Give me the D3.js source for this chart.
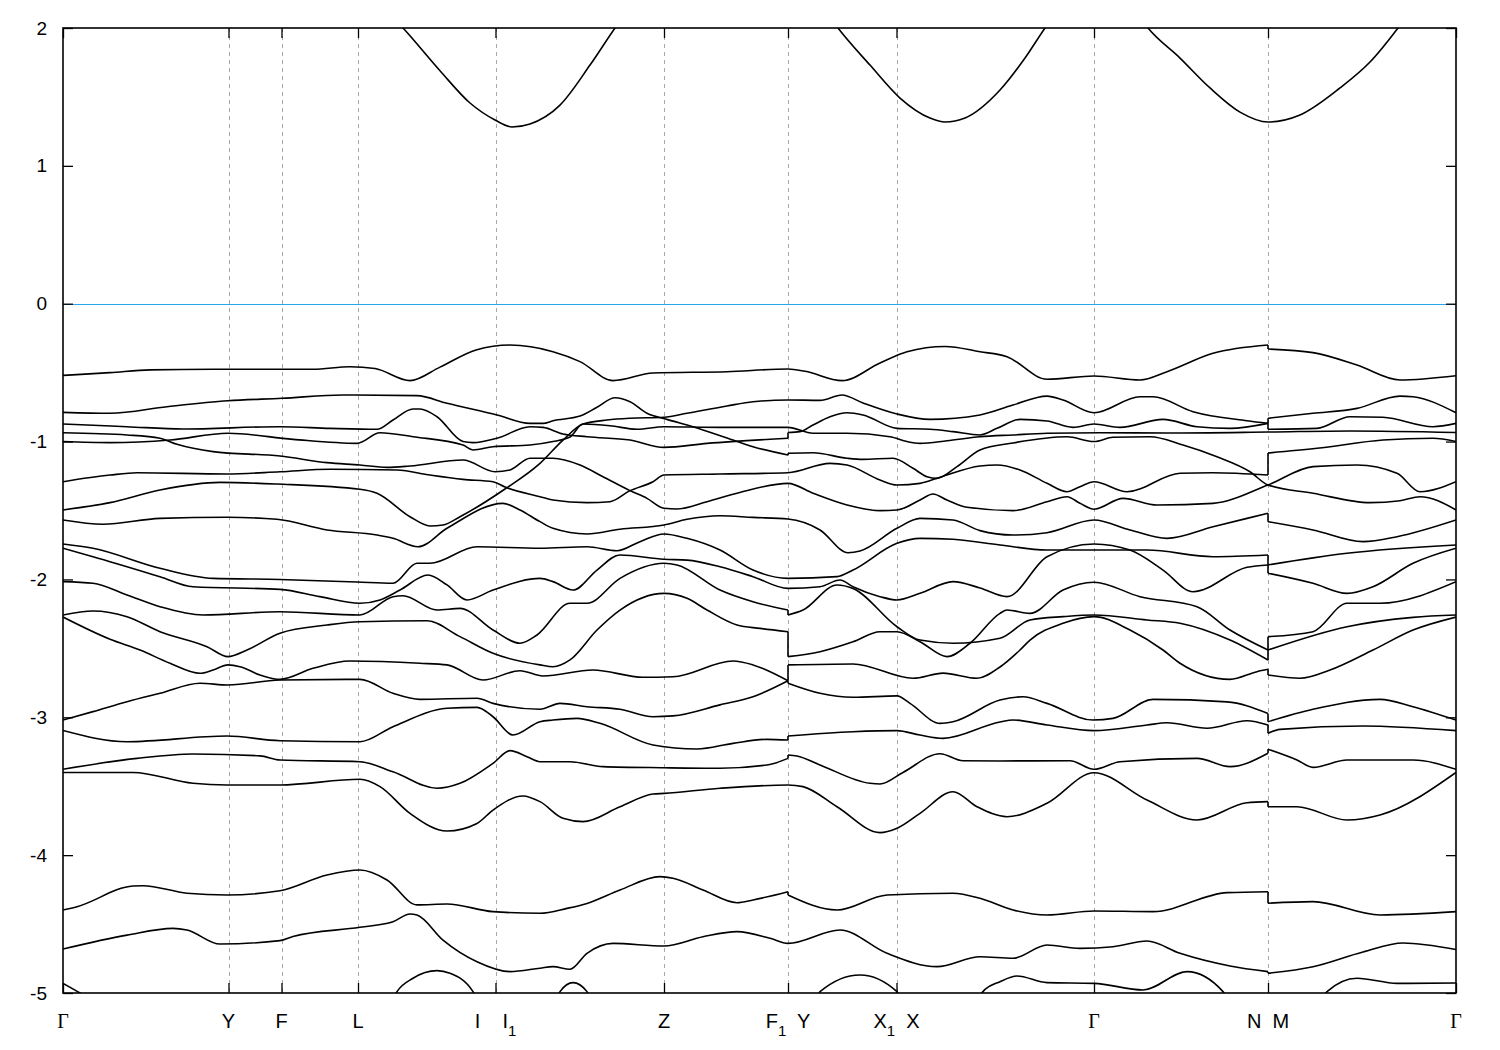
<!DOCTYPE html>
<html><head><meta charset="utf-8">
<script src="https://cdn.jsdelivr.net/npm/d3@7"></script>
<style>body{margin:0;background:#fff}</style>
</head><body>
<svg id="chart" width="1500" height="1050"></svg>
<script>
// ---- k-path ticks (path distance units) ----
const kTicks = [0, 1.655, 2.185, 2.95, 4.325, 6.01, 7.25, 8.335, 10.31, 12.05, 13.93];
const kTickLabels = ["Γ","Y","F","L","I    I_1","Z","F_1  Y","X_1  X","Γ","N  M","Γ"];
const energyTicks = [2, 1, 0, -1, -2, -3, -4, -5];
const energyRange = [-5, 2];
const fermiLevel = 0;

// ---- conduction band (pieces that enter the window) ----
const cbSeg1 = [[3.20,2.15],[3.40,2.0],[3.77,1.69],[4.07,1.456],[4.32,1.333],[4.49,1.282],[4.67,1.304],[4.97,1.441],[5.27,1.731],[5.52,2.0],[5.70,2.18]];
const cbSeg2 = [[7.57,2.18],[7.75,2.0],[8.07,1.731],[8.37,1.492],[8.67,1.347],[8.82,1.318],[9.02,1.347],[9.37,1.55],[9.62,1.782],[9.82,2.0],[10.0,2.18]];
const cbSeg3 = [[10.67,2.18],[10.85,2.0],[11.17,1.782],[11.47,1.565],[11.77,1.39],[12.05,1.318],[12.37,1.369],[12.77,1.565],[13.07,1.753],[13.35,2.0],[13.53,2.18]];

// ---- valence bands [k, E(eV)] ; repeated k = discontinuity ----
const band01 = [[0,-0.52],[0.47,-0.50],[0.87,-0.48],[1.5,-0.475],[2.5,-0.475],[2.87,-0.457],[3.12,-0.47],[3.47,-0.558],[3.77,-0.46],[4.13,-0.336],[4.47,-0.30],[4.90,-0.348],[5.17,-0.42],[5.50,-0.558],[5.90,-0.503],[6.64,-0.493],[7.25,-0.474],[7.42,-0.49],[7.79,-0.558],[8.17,-0.43],[8.44,-0.348],[8.82,-0.31],[9.17,-0.348],[9.44,-0.384],[9.84,-0.548],[10.31,-0.524],[10.77,-0.553],[11.04,-0.493],[11.50,-0.36],[12.05,-0.30],[12.05,-0.329],[12.50,-0.355],[12.94,-0.445],[13.37,-0.553],[13.93,-0.522]];
const band02 = [[0,-0.788],[0.47,-0.795],[1.04,-0.747],[1.65,-0.704],[2.19,-0.686],[2.80,-0.662],[3.54,-0.667],[3.84,-0.722],[4.34,-0.807],[4.67,-0.868],[4.80,-0.868],[4.90,-0.849],[5.17,-0.815],[5.34,-0.751],[5.52,-0.682],[5.67,-0.711],[5.84,-0.795],[6.04,-0.839],[6.30,-0.892],[6.70,-0.989],[6.90,-1.037],[7.25,-1.097],[7.25,-1.085],[7.50,-1.081],[7.84,-1.121],[8.00,-1.129],[8.30,-1.121],[8.50,-1.194],[8.64,-1.255],[8.74,-1.267],[8.94,-1.182],[9.17,-1.061],[9.50,-1.01],[10.04,-0.965],[10.31,-1.0],[10.50,-0.969],[10.87,-0.965],[11.20,-1.025],[11.54,-1.11],[11.87,-1.219],[12.05,-1.315],[12.50,-1.375],[13.07,-1.443],[13.37,-1.429],[13.57,-1.40],[13.93,-1.496]];
const band03 = [[0,-0.873],[0.64,-0.892],[1.20,-0.909],[2.17,-0.892],[2.67,-0.904],[3.14,-0.911],[3.30,-0.844],[3.50,-0.764],[3.57,-0.764],[3.74,-0.82],[4.00,-1.0],[4.10,-1.008],[4.34,-0.976],[4.67,-0.892],[4.80,-0.897],[5.00,-0.945],[5.24,-0.965],[5.67,-0.989],[6.01,-1.042],[6.44,-1.013],[7.25,-0.976],[7.25,-0.934],[7.37,-0.928],[7.50,-0.88],[7.67,-0.82],[7.84,-0.791],[8.00,-0.807],[8.34,-0.904],[8.67,-0.911],[8.90,-0.928],[9.17,-0.952],[9.34,-0.904],[9.57,-0.839],[9.84,-0.851],[10.10,-0.897],[10.31,-0.873],[10.57,-0.897],[11.00,-0.839],[11.34,-0.892],[11.67,-0.904],[12.05,-0.868],[12.05,-0.911],[12.54,-0.904],[12.87,-0.82],[13.20,-0.824],[13.70,-0.892],[13.93,-0.868]];
const band04 = [[0,-0.936],[0.64,-0.952],[0.97,-0.976],[1.14,-1.02],[1.50,-1.073],[2.17,-1.105],[2.64,-1.153],[2.97,-1.17],[3.24,-1.187],[3.47,-1.177],[4.00,-1.134],[4.32,-1.219],[4.47,-1.206],[4.67,-1.121],[4.90,-1.121],[5.17,-1.17],[5.40,-1.255],[5.67,-1.356],[5.84,-1.412],[6.01,-1.484],[6.14,-1.489],[6.44,-1.436],[6.74,-1.375],[7.25,-1.303],[7.50,-1.375],[7.84,-1.46],[8.17,-1.501],[8.34,-1.496],[8.57,-1.424],[8.70,-1.38],[8.84,-1.424],[9.04,-1.477],[9.50,-1.501],[9.84,-1.436],[10.04,-1.40],[10.17,-1.448],[10.31,-1.491],[10.60,-1.412],[10.94,-1.46],[11.50,-1.448],[12.05,-1.315],[12.50,-1.182],[12.94,-1.17],[13.34,-1.23],[13.57,-1.364],[13.93,-1.291]];
const band05 = [[0,-1.0],[0.47,-1.008],[1.07,-0.989],[1.65,-0.94],[2.30,-0.984],[2.94,-1.013],[3.17,-0.936],[3.50,-0.965],[4.00,-1.025],[4.10,-1.061],[4.30,-1.037],[4.67,-1.025],[4.90,-1.0],[5.07,-0.967],[5.20,-0.873],[5.47,-0.885],[5.74,-0.911],[6.01,-0.892],[6.57,-0.897],[7.25,-0.897],[7.50,-0.94],[7.84,-0.94],[8.27,-0.965],[8.44,-1.0],[8.57,-1.013],[8.84,-0.994],[9.17,-0.965],[9.50,-0.952],[9.84,-0.94],[10.37,-0.936],[11.04,-0.938],[12.05,-0.931],[12.87,-0.923],[13.93,-0.934]];
const band06 = [[0,-1.291],[0.47,-1.243],[0.74,-1.226],[1.64,-1.235],[2.17,-1.219],[2.67,-1.201],[3.34,-1.206],[3.67,-1.243],[4.00,-1.274],[4.30,-1.291],[4.42,-1.33],[4.77,-1.40],[4.90,-1.424],[5.24,-1.443],[5.47,-1.436],[5.67,-1.356],[5.90,-1.291],[6.01,-1.243],[6.57,-1.235],[7.25,-1.226],[7.67,-1.158],[7.84,-1.17],[8.17,-1.279],[8.34,-1.315],[8.57,-1.303],[8.77,-1.259],[9.17,-1.177],[9.34,-1.17],[9.57,-1.206],[9.84,-1.303],[10.04,-1.364],[10.17,-1.327],[10.31,-1.291],[10.64,-1.364],[11.17,-1.23],[11.50,-1.226],[12.05,-1.243],[12.05,-1.083],[12.54,-1.049],[13.20,-0.989],[13.70,-0.976],[13.93,-1.0]];
const band07 = [[0,-1.496],[0.47,-1.443],[0.97,-1.351],[1.57,-1.296],[2.14,-1.308],[2.97,-1.346],[3.14,-1.375],[3.47,-1.545],[3.67,-1.612],[3.80,-1.605],[3.97,-1.545],[4.42,-1.344],[4.77,-1.158],[5.00,-0.989],[5.20,-0.873],[5.44,-0.844],[5.67,-0.831],[6.01,-0.824],[6.24,-0.795],[6.64,-0.742],[6.90,-0.711],[7.25,-0.698],[7.57,-0.701],[7.79,-0.662],[8.00,-0.72],[8.34,-0.80],[8.67,-0.839],[9.17,-0.807],[9.50,-0.735],[9.84,-0.67],[10.00,-0.699],[10.31,-0.791],[10.77,-0.675],[10.90,-0.675],[11.30,-0.783],[11.84,-0.849],[12.05,-0.868],[12.05,-0.831],[12.50,-0.795],[12.94,-0.759],[13.37,-0.67],[13.50,-0.675],[13.93,-0.791]];
const band08 = [[0,-1.569],[0.40,-1.60],[0.97,-1.557],[1.64,-1.549],[2.14,-1.564],[2.64,-1.641],[3.14,-1.678],[3.30,-1.702],[3.55,-1.763],[3.84,-1.629],[4.40,-1.448],[4.57,-1.496],[4.77,-1.581],[4.90,-1.629],[5.24,-1.67],[5.57,-1.636],[6.01,-1.605],[6.24,-1.564],[6.57,-1.538],[6.90,-1.55],[7.25,-1.562],[7.57,-1.641],[7.85,-1.806],[7.97,-1.794],[8.34,-1.629],[8.57,-1.557],[8.90,-1.569],[9.17,-1.646],[9.50,-1.678],[9.84,-1.661],[10.31,-1.569],[10.67,-1.641],[11.04,-1.702],[11.50,-1.618],[11.84,-1.557],[12.05,-1.52],[12.05,-1.581],[12.50,-1.641],[13.00,-1.726],[13.34,-1.69],[13.93,-1.569]];
const band09 = [[0,-1.743],[0.30,-1.774],[0.97,-1.919],[1.50,-1.992],[2.17,-2.0],[2.94,-2.019],[3.30,-2.028],[3.54,-1.883],[3.67,-1.883],[4.14,-1.763],[4.77,-1.774],[5.24,-1.763],[5.54,-1.792],[5.77,-1.726],[6.01,-1.67],[6.24,-1.702],[6.57,-1.787],[6.90,-1.932],[7.25,-1.992],[7.74,-1.98],[7.90,-1.932],[8.34,-1.738],[8.57,-1.702],[8.90,-1.709],[9.37,-1.75],[9.84,-1.787],[10.84,-1.787],[11.50,-1.835],[12.05,-1.823],[12.05,-1.895],[12.84,-1.81],[13.93,-1.75]];
const band10 = [[0,-1.774],[0.30,-1.835],[0.97,-1.98],[1.30,-2.053],[2.17,-2.072],[2.57,-2.125],[2.97,-2.173],[3.17,-2.149],[3.37,-2.077],[3.65,-1.968],[3.84,-2.04],[4.04,-2.149],[4.30,-2.077],[4.77,-1.992],[4.90,-2.016],[5.10,-2.077],[5.34,-1.932],[5.57,-1.823],[6.01,-1.854],[6.24,-1.86],[6.57,-1.908],[6.90,-1.98],[7.25,-2.065],[7.57,-2.053],[7.77,-2.004],[7.90,-2.053],[8.17,-2.125],[8.34,-2.149],[8.57,-2.101],[8.90,-2.016],[9.17,-2.062],[9.44,-2.125],[9.84,-1.835],[10.31,-1.743],[10.67,-1.787],[11.00,-1.932],[11.30,-2.089],[11.84,-1.912],[12.05,-1.895],[12.05,-1.955],[12.50,-2.028],[12.84,-2.101],[13.10,-2.053],[13.50,-1.883],[13.93,-1.774]];
const band11 = [[0,-2.016],[0.30,-2.028],[0.64,-2.113],[0.97,-2.198],[1.40,-2.258],[2.17,-2.234],[2.97,-2.258],[3.30,-2.125],[3.40,-2.118],[3.74,-2.222],[3.97,-2.21],[4.30,-2.367],[4.57,-2.463],[4.74,-2.403],[5.07,-2.173],[5.24,-2.173],[5.57,-1.992],[6.01,-1.883],[6.14,-1.895],[6.57,-2.077],[6.90,-2.162],[7.25,-2.222],[7.25,-2.258],[7.40,-2.222],[7.74,-2.04],[7.90,-2.065],[8.34,-2.343],[8.57,-2.44],[8.90,-2.463],[9.37,-2.427],[9.67,-2.294],[10.00,-2.27],[10.31,-2.258],[10.84,-2.294],[11.17,-2.318],[11.67,-2.44],[12.05,-2.585],[12.05,-2.512],[12.84,-2.343],[13.50,-2.275],[13.93,-2.258]];
const band12 = [[0,-2.258],[0.30,-2.229],[0.64,-2.27],[0.97,-2.379],[1.44,-2.488],[1.65,-2.56],[1.84,-2.512],[2.17,-2.39],[2.64,-2.331],[2.97,-2.307],[3.64,-2.30],[3.97,-2.415],[4.30,-2.536],[4.77,-2.62],[4.90,-2.633],[5.07,-2.584],[5.34,-2.367],[5.57,-2.222],[6.01,-2.101],[6.24,-2.137],[6.44,-2.222],[6.74,-2.331],[6.97,-2.355],[7.25,-2.379],[7.25,-2.56],[7.57,-2.524],[7.90,-2.452],[8.17,-2.379],[8.34,-2.379],[8.57,-2.452],[8.84,-2.56],[9.07,-2.463],[9.37,-2.246],[9.44,-2.222],[9.67,-2.246],[10.00,-2.077],[10.31,-2.02],[10.77,-2.125],[11.34,-2.198],[11.67,-2.367],[12.05,-2.512],[12.05,-2.415],[12.50,-2.379],[12.84,-2.173],[13.17,-2.173],[13.93,-2.016]];
const band13 = [[0,-2.273],[0.47,-2.434],[0.77,-2.512],[1.07,-2.608],[1.37,-2.681],[1.50,-2.657],[1.65,-2.62],[1.77,-2.633],[1.97,-2.693],[2.17,-2.725],[2.50,-2.645],[2.87,-2.592],[3.57,-2.608],[3.84,-2.62],[4.20,-2.73],[4.57,-2.662],[4.80,-2.70],[5.30,-2.657],[5.80,-2.71],[6.10,-2.706],[6.70,-2.592],[6.90,-2.62],[7.25,-2.735],[7.25,-2.62],[7.90,-2.613],[8.50,-2.717],[8.80,-2.68],[9.14,-2.717],[9.37,-2.635],[9.57,-2.512],[9.67,-2.44],[10.00,-2.318],[10.31,-2.27],[10.67,-2.367],[11.00,-2.512],[11.17,-2.608],[11.67,-2.725],[11.94,-2.669],[12.05,-2.652],[12.05,-2.693],[12.37,-2.717],[12.67,-2.657],[13.10,-2.512],[13.50,-2.367],[13.93,-2.273]];
const band14 = [[0,-3.02],[0.30,-2.959],[0.64,-2.887],[0.97,-2.826],[1.37,-2.753],[1.65,-2.766],[2.17,-2.73],[2.97,-2.725],[3.30,-2.826],[3.57,-2.87],[4.14,-2.862],[4.30,-2.899],[4.77,-2.942],[4.97,-2.899],[5.24,-2.923],[5.57,-2.942],[5.90,-2.996],[6.10,-2.99],[6.57,-2.91],[6.90,-2.851],[7.25,-2.735],[7.25,-2.753],[7.57,-2.826],[7.90,-2.855],[8.34,-2.845],[8.47,-2.899],[8.77,-3.044],[8.90,-3.032],[9.37,-2.875],[9.60,-2.851],[9.84,-2.899],[10.30,-3.02],[10.50,-3.008],[10.90,-2.87],[11.64,-2.888],[12.05,-2.972],[12.05,-3.032],[12.50,-2.942],[13.17,-2.87],[13.50,-2.923],[13.93,-3.02]];
const band15 = [[0,-3.096],[0.64,-3.177],[1.64,-3.136],[2.17,-3.17],[2.97,-3.177],[3.30,-3.068],[3.84,-2.935],[4.14,-2.928],[4.30,-2.996],[4.50,-3.129],[4.77,-3.032],[4.90,-3.02],[5.14,-3.008],[5.37,-3.044],[5.90,-3.201],[6.34,-3.23],[6.70,-3.189],[7.04,-3.16],[7.25,-3.165],[7.25,-3.136],[7.90,-3.105],[8.34,-3.097],[8.57,-3.129],[8.80,-3.153],[9.37,-3.034],[9.50,-3.02],[9.84,-3.056],[10.31,-3.097],[10.84,-3.056],[11.04,-3.04],[11.44,-3.08],[11.84,-3.025],[12.05,-3.056],[12.05,-3.116],[12.17,-3.088],[13.00,-3.063],[13.93,-3.097]];
const band16 = [[0,-3.377],[0.74,-3.298],[1.30,-3.266],[1.97,-3.28],[2.17,-3.31],[2.97,-3.322],[3.30,-3.395],[3.74,-3.515],[3.97,-3.479],[4.30,-3.334],[4.47,-3.242],[4.64,-3.286],[4.77,-3.322],[5.07,-3.322],[5.40,-3.358],[6.01,-3.366],[6.57,-3.37],[7.04,-3.346],[7.25,-3.298],[7.25,-3.274],[7.34,-3.281],[7.57,-3.346],[8.07,-3.479],[8.17,-3.484],[8.40,-3.40],[8.77,-3.264],[9.00,-3.315],[9.37,-3.317],[10.07,-3.315],[10.31,-3.377],[10.57,-3.322],[11.34,-3.298],[11.67,-3.358],[12.05,-3.261],[12.05,-3.232],[12.34,-3.31],[12.50,-3.363],[12.84,-3.31],[13.50,-3.31],[13.93,-3.377]];
const band17 = [[0,-3.40],[0.70,-3.40],[1.30,-3.479],[1.64,-3.491],[2.17,-3.491],[2.97,-3.45],[3.17,-3.503],[3.47,-3.697],[3.84,-3.825],[4.14,-3.77],[4.30,-3.673],[4.60,-3.571],[4.77,-3.612],[5.00,-3.733],[5.20,-3.757],[5.57,-3.649],[5.90,-3.557],[6.01,-3.552],[6.57,-3.515],[7.25,-3.491],[7.40,-3.503],[7.74,-3.649],[8.17,-3.837],[8.34,-3.805],[8.57,-3.697],[8.90,-3.54],[9.14,-3.649],[9.44,-3.721],[9.84,-3.624],[10.31,-3.402],[10.84,-3.60],[11.34,-3.745],[11.84,-3.62],[12.05,-3.612],[12.05,-3.649],[12.34,-3.649],[12.84,-3.745],[13.17,-3.709],[13.93,-3.40]];
const band18 = [[0,-4.398],[0.14,-4.374],[0.70,-4.224],[0.80,-4.222],[1.24,-4.276],[1.64,-4.289],[2.17,-4.258],[2.64,-4.144],[2.97,-4.108],[3.24,-4.18],[3.54,-4.361],[3.84,-4.354],[4.30,-4.41],[4.77,-4.422],[5.04,-4.386],[5.24,-4.35],[5.57,-4.253],[5.97,-4.156],[6.10,-4.168],[6.40,-4.253],[6.74,-4.345],[6.90,-4.325],[7.25,-4.265],[7.25,-4.289],[7.74,-4.398],[8.24,-4.289],[8.90,-4.276],[9.17,-4.313],[9.50,-4.398],[9.84,-4.434],[10.31,-4.405],[10.90,-4.41],[11.64,-4.272],[12.05,-4.265],[12.05,-4.349],[12.50,-4.337],[13.17,-4.434],[13.93,-4.41]];
const band19 = [[0,-4.681],[0.64,-4.58],[1.10,-4.531],[1.24,-4.543],[1.57,-4.645],[2.17,-4.62],[2.30,-4.59],[2.97,-4.523],[3.30,-4.483],[3.47,-4.427],[3.54,-4.434],[3.80,-4.616],[4.14,-4.773],[4.47,-4.845],[4.77,-4.82],[4.90,-4.809],[5.07,-4.828],[5.24,-4.712],[5.50,-4.64],[6.01,-4.659],[6.40,-4.592],[6.74,-4.555],[7.07,-4.603],[7.25,-4.64],[7.77,-4.543],[8.24,-4.712],[8.74,-4.809],[9.17,-4.737],[9.50,-4.748],[9.84,-4.652],[10.17,-4.676],[10.50,-4.664],[10.84,-4.623],[11.17,-4.712],[11.67,-4.804],[12.05,-4.845],[12.05,-4.857],[12.50,-4.809],[13.00,-4.702],[13.40,-4.637],[13.93,-4.685]];
// lowest band: only the pieces that rise above -5 eV
const lowSeg1 = [[0,-4.93],[0.17,-5.0],[0.35,-5.08]];
const lowSeg2 = [[3.30,-5.04],[3.34,-4.99],[3.50,-4.893],[3.74,-4.838],[3.87,-4.857],[4.10,-4.99],[4.14,-5.04]];
const lowSeg3 = [[4.94,-5.04],[4.97,-4.99],[5.10,-4.925],[5.24,-4.99],[5.27,-5.04]];
const lowSeg4 = [[7.54,-5.04],[7.57,-4.99],[7.97,-4.869],[8.34,-4.99],[8.37,-5.04]];
const lowSeg5 = [[9.15,-5.04],[9.20,-4.99],[9.37,-4.918],[9.54,-4.877],[9.84,-4.925],[10.31,-4.93],[10.80,-4.978],[11.24,-4.845],[11.60,-4.99],[11.64,-5.04]];
const lowSeg6 = [[12.60,-5.04],[12.64,-4.99],[12.94,-4.893],[13.34,-4.93],[13.93,-4.927]];

const allBands = [cbSeg1, cbSeg2, cbSeg3,
  band01, band02, band03, band04, band05, band06, band07, band08, band09, band10,
  band11, band12, band13, band14, band15, band16, band17, band18, band19,
  lowSeg1, lowSeg2, lowSeg3, lowSeg4, lowSeg5, lowSeg6];

// ---- drawing ----
const W = 1500, H = 1050;
const P = {l: 63, t: 28, r: 1456, b: 993};
const svg = d3.select("#chart");
const x = d3.scaleLinear().domain([kTicks[0], kTicks[kTicks.length - 1]]).range([P.l, P.r]);
const y = d3.scaleLinear().domain(energyRange).range([P.b, P.t]);
const FONT = "'Liberation Sans', Arial, Helvetica, sans-serif";

svg.append("rect").attr("width", W).attr("height", H).attr("fill", "#fff");
svg.append("defs").append("clipPath").attr("id", "clip")
  .append("rect").attr("x", P.l).attr("y", P.t).attr("width", P.r - P.l).attr("height", P.b - P.t);

// vertical dashed lines at high-symmetry points
svg.append("g").selectAll("line").data(kTicks.slice(1, -1)).join("line")
  .attr("x1", d => Math.round(x(d)) + 0.5).attr("x2", d => Math.round(x(d)) + 0.5)
  .attr("y1", P.t).attr("y2", P.b)
  .attr("stroke", "#a8a8a8").attr("stroke-width", 1).attr("stroke-dasharray", "4,4");

// Fermi level
const yF = Math.round(y(fermiLevel)) + 0.5;
svg.append("line").attr("x1", P.l).attr("x2", P.r)
  .attr("y1", yF).attr("y2", yF)
  .attr("stroke", "#2aa4ec").attr("stroke-width", 1.2);

// bands
const gBands = svg.append("g").attr("clip-path", "url(#clip)")
  .attr("fill", "none").attr("stroke", "#000").attr("stroke-width", 1.6)
  .attr("stroke-linejoin", "round");
const line = d3.line().x(d => x(d[0])).y(d => y(d[1])).curve(d3.curveMonotoneX);
allBands.forEach(band => {
  const runs = [];
  let cur = [band[0]];
  for (let i = 1; i < band.length; i++) {
    if (band[i][0] === band[i - 1][0]) { runs.push(cur); cur = [band[i]]; }
    else cur.push(band[i]);
  }
  runs.push(cur);
  runs.forEach(r => { if (r.length > 1) gBands.append("path").attr("d", line(r)); });
  for (let i = 1; i < runs.length; i++) {
    const a = runs[i - 1][runs[i - 1].length - 1], b = runs[i][0];
    gBands.append("line").attr("x1", x(a[0])).attr("x2", x(b[0]))
      .attr("y1", y(a[1])).attr("y2", y(b[1]));
  }
});

// axes (inward ticks, mirrored)
const axL = svg.append("g").attr("transform", `translate(${P.l},0)`)
  .call(d3.axisLeft(y).tickValues(energyTicks).tickSizeInner(-10).tickSizeOuter(0).tickPadding(16).tickFormat(d3.format("d")));
const axR = svg.append("g").attr("transform", `translate(${P.r},0)`)
  .call(d3.axisRight(y).tickValues(energyTicks).tickSizeInner(-10).tickSizeOuter(0).tickFormat(""));
const axB = svg.append("g").attr("transform", `translate(0,${P.b})`)
  .call(d3.axisBottom(x).tickValues(kTicks).tickSizeInner(-10).tickSizeOuter(0).tickFormat(""));
const axT = svg.append("g").attr("transform", `translate(0,${P.t})`)
  .call(d3.axisTop(x).tickValues(kTicks).tickSizeInner(-10).tickSizeOuter(0).tickFormat(""));
[axL, axR, axB, axT].forEach(a => {
  a.select(".domain").remove();
  a.selectAll(".tick line").attr("stroke", "#000").attr("stroke-width", 1.3);
});
axL.selectAll("text").attr("font-family", FONT).attr("font-size", 19).attr("fill", "#000")
  .text(d => String(d));

// frame
svg.append("rect").attr("x", P.l).attr("y", P.t).attr("width", P.r - P.l).attr("height", P.b - P.t)
  .attr("fill", "none").attr("stroke", "#000").attr("stroke-width", 1.6);

// k-point labels with subscripts
const gLab = svg.append("g");
kTicks.forEach((k, i) => {
  const lab = kTickLabels[i];
  const t = gLab.append("text").attr("x", x(k)).attr("y", 1028)
    .attr("text-anchor", "middle").attr("font-size", 20).attr("fill", "#000")
    .attr("xml:space", "preserve").style("white-space", "pre")
    .attr("font-family", lab === "Γ" ? "'Liberation Serif', 'Times New Roman', serif" : FONT);
  const parts = lab.split(/(_\w)/).filter(s => s.length);
  let pendingDy = 0;
  parts.forEach(p => {
    if (p[0] === "_") {
      t.append("tspan").attr("font-size", 15).attr("dy", 8 + pendingDy).text(p.slice(1));
      pendingDy = -8;
    } else {
      const s = t.append("tspan").text(p);
      if (pendingDy) s.attr("dy", pendingDy);
      pendingDy = 0;
    }
  });
});
</script>
</body></html>
